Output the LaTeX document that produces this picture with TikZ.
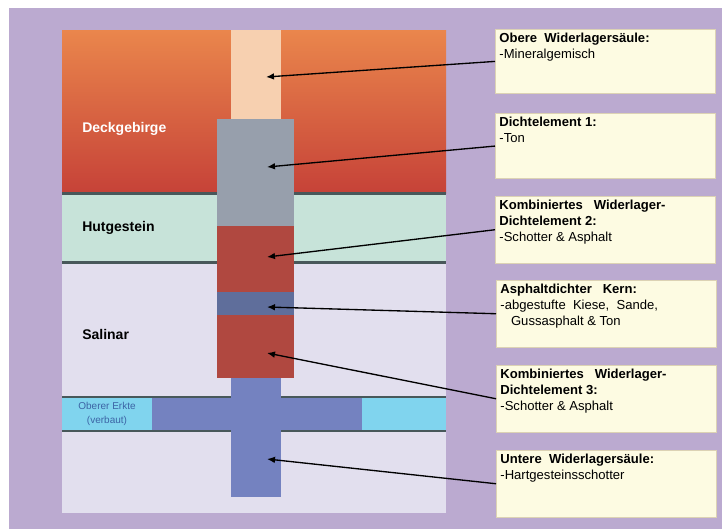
\documentclass[tikz,border=0pt]{standalone}
\usepackage{fontspec}
\setmainfont{Liberation Sans}
\usetikzlibrary{arrows.meta}
\definecolor{lav}{RGB}{187,170,208}
\definecolor{deckTop}{RGB}{234,134,76}
\definecolor{deckBot}{RGB}{198,66,56}
\definecolor{hut}{RGB}{199,227,217}
\definecolor{sal}{RGB}{226,223,238}
\definecolor{sepc}{RGB}{72,88,90}
\definecolor{peach}{RGB}{247,208,176}
\definecolor{grayS}{RGB}{151,159,172}
\definecolor{redS}{RGB}{176,72,64}
\definecolor{kern}{RGB}{95,110,155}
\definecolor{blueS}{RGB}{116,130,192}
\definecolor{cyanS}{RGB}{128,212,238}
\definecolor{cream}{RGB}{253,251,226}
\definecolor{creamline}{RGB}{220,210,180}
\definecolor{erkte}{RGB}{60,100,165}
\newcommand\infotext[2]{\parbox[c][#1][t]{159pt}{\fontsize{9.8}{12}\selectfont #2}}
\begin{document}
\begin{tikzpicture}[x=0.75pt,y=-0.75pt,
  sepline/.style={draw=sepc,line width=1.6pt},
  infobox/.style={draw=creamline,fill=cream,line width=0.6pt,anchor=north west,inner xsep=3pt,inner ysep=3pt},
  conn/.style={line width=1pt,-{Latex[length=6pt,width=5pt]}},
  layerlabel/.style={font=\bfseries\fontsize{10.5}{12}\selectfont,anchor=west,inner sep=0pt}]
\useasboundingbox (0,0) rectangle (722,529);
\fill[white] (0,0) rectangle (722,529);
\fill[lav] (9,8) rectangle (722,529);
% layers
\shade[top color=deckTop,bottom color=deckBot] (62,30) rectangle (446,193);
\fill[hut] (62,193) rectangle (446,262);
\fill[sal] (62,262) rectangle (446,513);
\draw[sepline] (62,193.5) -- (446,193.5);
\draw[sepline] (62,262.5) -- (446,262.5);
% Strecke
\fill[cyanS] (62,397) rectangle (446,431);
\fill[blueS] (152,397) rectangle (362,431);
\draw[sepline] (62,397) -- (446,397);
\draw[sepline] (62,431) -- (446,431);
% shaft
\fill[peach] (231,30) rectangle (281,119);
\fill[grayS] (217,119) rectangle (294,226);
\fill[redS] (217,226) rectangle (294,292);
\fill[kern] (217,292) rectangle (294,315);
\fill[redS] (217,315) rectangle (294,378);
\fill[blueS] (231,378) rectangle (281,497);
% layer labels
\node[layerlabel,text=white] (ldeck) at (82,129) {Deckgebirge};
\node[layerlabel] (lhut) at (82,228) {Hutgestein};
\node[layerlabel] (lsal) at (82,334) {Salinar};
\node[font=\fontsize{7.5}{10}\selectfont,text=erkte,align=center,inner sep=0pt] (lerkte) at (107,414) {Oberer Erkte\\(verbaut)};
% target points
\coordinate (p1) at (266,77);
\coordinate (p2) at (267,167);
\coordinate (p3) at (267,257);
\coordinate (p4) at (267,307);
\coordinate (p5) at (267,353);
\coordinate (p6) at (267,459);
% info boxes
\node[infobox] (b1) at (495,29) {\infotext{42pt}{\textbf{Obere\ \ Widerlagersäule:}\\-Mineralgemisch}};
\node[infobox] (b2) at (495,113) {\infotext{43pt}{\textbf{Dichtelement 1:}\\-Ton}};
\node[infobox] (b3) at (495,196) {\infotext{44pt}{\textbf{Kombiniertes\ \ \ Widerlager-}\\\textbf{Dichtelement 2:}\\-Schotter \& Asphalt}};
\node[infobox] (b4) at (496,280) {\infotext{44pt}{\textbf{Asphaltdichter\ \ \ Kern:}\\-abgestufte\ \ Kiese,\ \ Sande,\\\hspace*{8pt}Gussasphalt \& Ton}};
\node[infobox] (b5) at (496,365) {\infotext{44pt}{\textbf{Kombiniertes\ \ \ Widerlager-}\\\textbf{Dichtelement 3:}\\-Schotter \& Asphalt}};
\node[infobox] (b6) at (496,450) {\infotext{44pt}{\textbf{Untere\ \ Widerlagersäule:}\\-Hartgesteinsschotter}};
% connectors
\draw[conn] (b1.west) -- (p1);
\draw[conn] (b2.west) -- (p2);
\draw[conn] (b3.west) -- (p3);
\draw[conn] (b4.west) -- (p4);
\draw[conn] (b5.west) -- (p5);
\draw[conn] (b6.west) -- (p6);
\end{tikzpicture}
\end{document}
